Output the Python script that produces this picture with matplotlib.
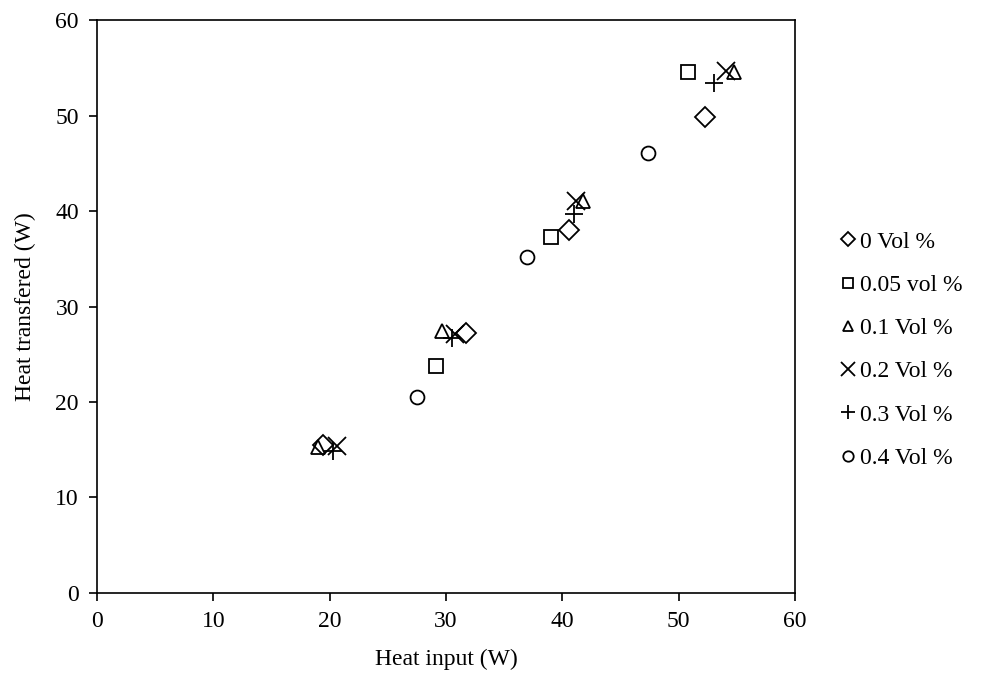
import matplotlib.pyplot as plt

plt.rcParams['font.family'] = ['Liberation Serif', 'DejaVu Serif']

labels = ['0 Vol %', '0.05 vol %', '0.1 Vol %', '0.2 Vol %', '0.3 Vol %', '0.4 Vol %']
markers = ['D', 's', '^', 'x', '+', 'o']
sizes = [10, 10, 10, 13, 13, 10]

x_0 = [19.4, 31.7, 40.6, 52.3]
y_0 = [15.5, 27.2, 38.0, 49.8]
x_005 = [29.1, 39.0, 50.8]
y_005 = [23.8, 37.3, 54.6]
x_01 = [19.0, 29.7, 41.8, 54.8]
y_01 = [15.3, 27.4, 41.0, 54.6]
x_02 = [20.6, 30.8, 41.2, 54.1]
y_02 = [15.4, 27.1, 41.0, 54.7]
x_03 = [20.3, 30.5, 41.0, 53.0]
y_03 = [14.9, 26.7, 39.7, 53.4]
x_04 = [27.5, 37.0, 47.4]
y_04 = [20.5, 35.2, 46.1]

xs = [x_0, x_005, x_01, x_02, x_03, x_04]
ys = [y_0, y_005, y_01, y_02, y_03, y_04]

fig = plt.figure(figsize=(9.83, 6.79), dpi=100)
ax = fig.add_axes([0.0987, 0.1267, 0.71, 0.8438])

for x, y, m, s, lab in zip(xs, ys, markers, sizes, labels):
    ax.plot(x, y, linestyle='none', marker=m, markersize=s, markerfacecolor='none',
            markeredgecolor='black', markeredgewidth=1.3, label=lab)

ax.set_xlim(0, 60)
ax.set_ylim(0, 60)
ax.set_xticks(range(0, 61, 10))
ax.set_yticks(range(0, 61, 10))
ax.tick_params(direction='out', length=6, width=1.2, labelsize=17, pad=7, top=False, right=False)
for sp in ax.spines.values():
    sp.set_linewidth(1.2)
ax.set_xlabel('Heat input (W)', fontsize=17, labelpad=12)
ax.set_ylabel('Heat transfered (W)', fontsize=17, labelpad=14)

leg = ax.legend(loc='center left', bbox_to_anchor=(1.035, 0.424), frameon=False, fontsize=17,
                handlelength=0.6, handletextpad=0.2, labelspacing=0.92, markerscale=0.75)

fig.savefig('out.png', dpi=100)
